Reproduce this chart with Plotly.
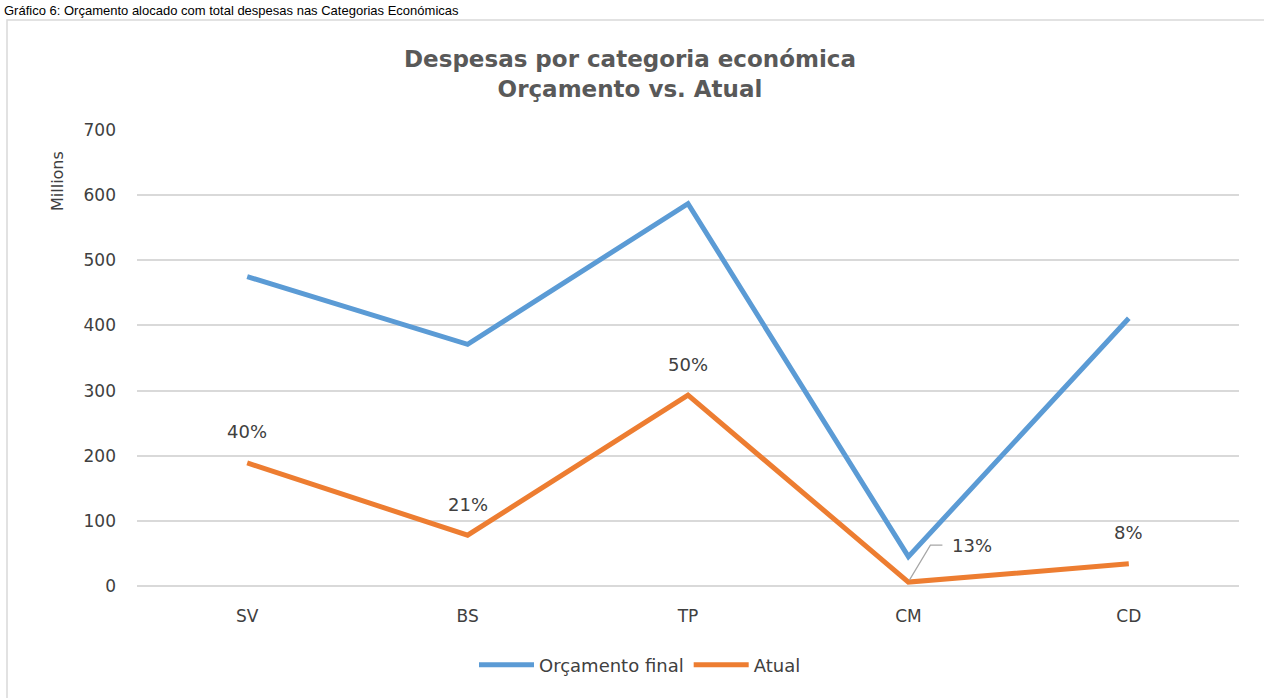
import plotly.graph_objects as go

categories = ["SV", "BS", "TP", "CM", "CD"]
orcamento_final = [475, 371, 587, 45, 411]
atual = [189, 78, 293, 6, 34]
pct_labels = ["40%", "21%", "50%", "13%", "8%"]
y_ticks = [0, 100, 200, 300, 400, 500, 600, 700]

W, H = 1264, 698
L, R, T, B = 137, 25, 130, 112
pw, ph = W - L - R, H - T - B

FONT = "'DejaVu Sans', Lato, sans-serif"
TXT = "#404040"

fig = go.Figure()
fig.add_trace(go.Scatter(x=categories, y=orcamento_final, mode="lines", name="Orçamento final",
                         line=dict(color="#5B9BD5", width=5), hoverinfo="x+y"))
fig.add_trace(go.Scatter(x=categories, y=atual, mode="lines", name="Atual",
                         line=dict(color="#ED7D31", width=5), hoverinfo="x+y"))

annotations = []
for i, (c, v, t) in enumerate(zip(categories, atual, pct_labels)):
    if i == 3:
        annotations.append(dict(x=c, y=v, xref="x", yref="y", text=t, showarrow=False,
                                xanchor="left", yanchor="middle", xshift=42, yshift=37,
                                font=dict(size=18, color=TXT, family=FONT)))
        fig.add_shape(type="path", xref="x", yref="y", xsizemode="pixel", ysizemode="pixel",
                      xanchor=c, yanchor=v, path="M 1,2 L 22,37 L 34,37",
                      line=dict(color="#A6A6A6", width=1.2))
    else:
        annotations.append(dict(x=c, y=v, xref="x", yref="y", text=t, showarrow=False,
                                xanchor="center", yanchor="middle", yshift=31,
                                font=dict(size=18, color=TXT, family=FONT)))

# Display-units label
annotations.append(dict(x=(58 - L) / pw, y=(H - B - 181) / ph, xref="paper", yref="paper",
                        text="Millions", textangle=-90, showarrow=False,
                        xanchor="center", yanchor="middle",
                        font=dict(size=16, color=TXT, family=FONT)))
# Caption at the very top
annotations.append(dict(x=(2 - L) / pw, y=(H - B - 1) / ph, xref="paper", yref="paper",
                        text="Gráfico 6: Orçamento alocado com total despesas nas Categorias Económicas",
                        showarrow=False, xanchor="left", yanchor="top",
                        font=dict(size=13, color="#000000", family="'Liberation Sans', Arial, sans-serif")))

# Outer chart frame
fig.add_shape(type="rect", xref="paper", yref="paper", layer="below",
              x0=(7 - L) / pw, x1=(1275 - L) / pw, y0=(H - B - 710) / ph, y1=(H - B - 20) / ph,
              line=dict(color="#D9D9D9", width=1.5), fillcolor="rgba(0,0,0,0)")

fig.update_layout(
    width=W, height=H,
    margin=dict(l=L, r=R, t=T, b=B),
    paper_bgcolor="white", plot_bgcolor="white",
    font=dict(family=FONT, color=TXT),
    title=dict(text="<b>Despesas por categoria económica<br>Orçamento vs. Atual</b>",
               x=630 / W, xref="container", xanchor="center",
               y=1 - 67 / H, yref="container", yanchor="middle",
               font=dict(size=23, color="#595959", family=FONT)),
    showlegend=True,
    legend=dict(orientation="h", xref="container", yref="container",
                x=640 / W, xanchor="center", y=1 - 665 / H, yanchor="middle",
                font=dict(size=18, color=TXT, family=FONT), itemwidth=55,
                bgcolor="rgba(0,0,0,0)"),
    annotations=annotations,
    hovermode="closest",
)
fig.update_xaxes(type="category", range=[-0.5, 4.5], showgrid=False, showline=False,
                 zeroline=False, ticks="", ticklabelstandoff=18,
                 tickfont=dict(size=17, color=TXT, family=FONT))
fig.update_yaxes(range=[0, 700], tickvals=y_ticks, showgrid=True, gridcolor="#D9D9D9",
                 gridwidth=1.5, zeroline=True, zerolinecolor="#D9D9D9", zerolinewidth=1.5,
                 showline=False, ticks="", ticklabelstandoff=20,
                 tickfont=dict(size=17, color=TXT, family=FONT))

fig.write_html("out.html", config={"displayModeBar": False},
               post_script="document.body.style.margin='0';")
